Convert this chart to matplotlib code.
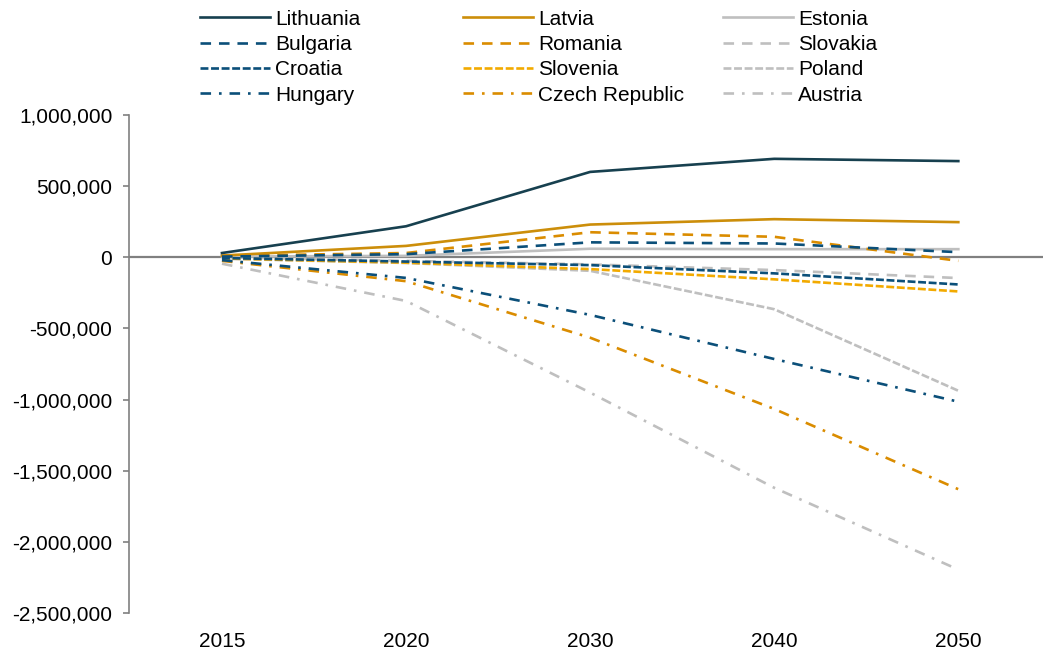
import matplotlib
matplotlib.use("Agg")
import matplotlib.pyplot as plt

plt.rcParams['font.family'] = ['Liberation Sans', 'DejaVu Sans']

years = ['2015', '2020', '2030', '2040', '2050']

# values (population change)
lithuania = [30000, 218000, 600000, 692000, 676000]
latvia = [12000, 80000, 230000, 268000, 247000]
estonia = [5000, 10000, 60000, 57000, 57000]
bulgaria = [5000, 22000, 105000, 97000, 36000]
romania = [10000, 30000, 176000, 144000, -25000]
slovakia = [0, -25000, -50000, -90000, -146000]
croatia = [-5000, -30000, -55000, -113000, -191000]
slovenia = [-8000, -38000, -83000, -155000, -240000]
poland = [-10000, -40000, -95000, -365000, -938000]
hungary = [-20000, -145000, -405000, -715000, -1015000]
czech = [-25000, -168000, -565000, -1066000, -1630000]
austria = [-45000, -307000, -951000, -1620000, -2195000]

navy = '#17404F'
blue = '#0B4F79'
gold = '#CC8E0A'
orange = '#DA8C00'
yellow = '#F2AA00'
grey = '#BFBFBF'

solid = '-'
dash = (0, (4, 3))
sysdash = (0, (3, 1))
dashdot = (0, (4, 3, 1, 3))

# legend columns (matplotlib fills columns, so one group per column)
col1 = [('Lithuania', lithuania, navy, solid),
        ('Bulgaria', bulgaria, blue, dash),
        ('Croatia', croatia, blue, sysdash),
        ('Hungary', hungary, blue, dashdot)]
col2 = [('Latvia', latvia, gold, solid),
        ('Romania', romania, orange, dash),
        ('Slovenia', slovenia, yellow, sysdash),
        ('Czech Republic', czech, orange, dashdot)]
col3 = [('Estonia', estonia, grey, solid),
        ('Slovakia', slovakia, grey, dash),
        ('Poland', poland, grey, sysdash),
        ('Austria', austria, grey, dashdot)]

fig = plt.figure(figsize=(10.43, 6.52), dpi=100)
ax = fig.add_axes([129 / 1043, 1 - 613 / 652, 1 - 129 / 1043, (613 - 115) / 652])

x = range(len(years))
col_handles = []
for col in (col3, col2, col1):
    hs = []
    for name, vals, c, ls in col:
        h, = ax.plot(x, vals, color=c, linestyle=ls, linewidth=1.9, label=name)
        hs.append(h)
    col_handles.insert(0, hs)

ax.axhline(0, color='#808080', linewidth=1.6, zorder=1)

ax.set_xlim(-0.505, 4.46)
ax.set_ylim(-2500000, 1000000)
ax.set_yticks(range(-2500000, 1000001, 500000))
ax.yaxis.set_major_formatter(matplotlib.ticker.FuncFormatter(lambda v, p: f'{int(v):,}'))
ax.set_xticks(list(x))
ax.set_xticklabels(years)

for s in ['top', 'right', 'bottom']:
    ax.spines[s].set_visible(False)
ax.spines['left'].set_color('#808080')
ax.spines['left'].set_linewidth(1.2)
ax.tick_params(axis='y', length=4, width=1.2, color='#808080', pad=8,
               labelsize=15, labelcolor='black')
ax.tick_params(axis='x', length=0, pad=14, labelsize=15, labelcolor='black')

lx = [200 / 1043, 463 / 1043, 723 / 1043]
for hs, xpos in zip(col_handles, lx):
    fig.legend(handles=hs, labels=[h.get_label() for h in hs],
               loc='upper left', bbox_to_anchor=(xpos, 0.985),
               frameon=False, fontsize=15, borderpad=0, borderaxespad=0,
               handlelength=3.35, handletextpad=0.25, labelspacing=0.3)

fig.savefig('out.png', dpi=100)
